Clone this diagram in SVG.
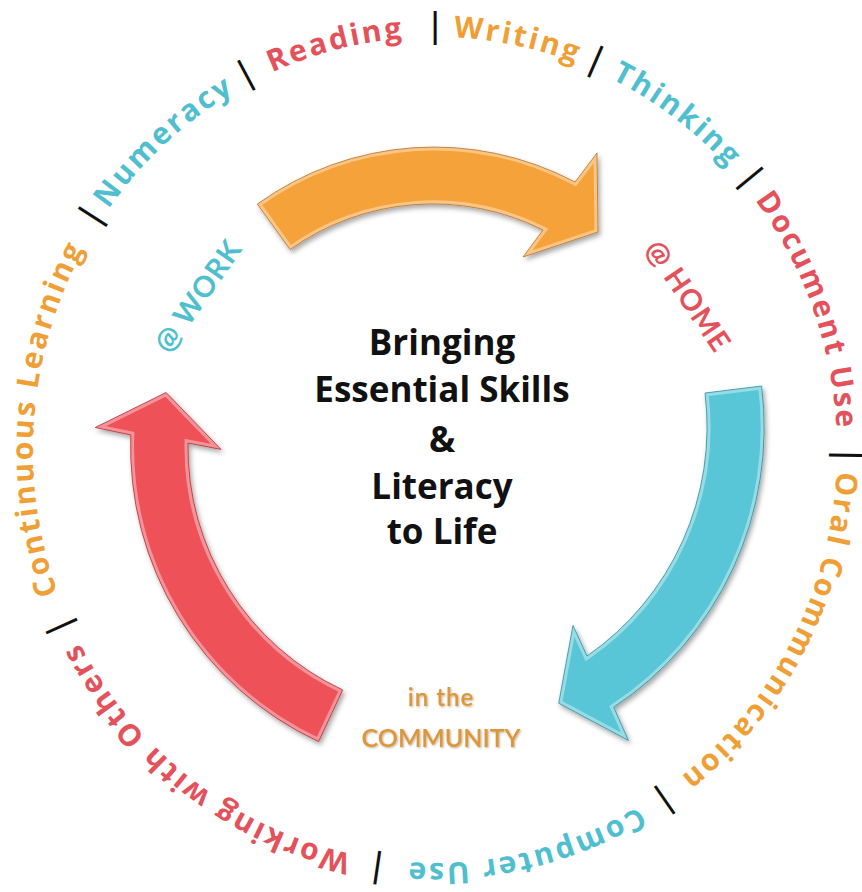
<svg xmlns="http://www.w3.org/2000/svg" width="862" height="892" viewBox="0 0 862 892">
  <defs>
    <style>
      .ring{font-family:"Open Sans","Noto Sans",sans-serif;font-weight:700;font-size:30px;letter-spacing:2.4px;text-anchor:middle}
      .sep{font-family:"Open Sans","Noto Sans",sans-serif;font-weight:600;font-size:34px;fill:#111;text-anchor:middle}
      .red{fill:#E4515A}
      .orange{fill:#F09F36}
      .teal{fill:#4FBFCF}
      .title{font-family:"Open Sans","Noto Sans",sans-serif;font-weight:700;font-size:35px;fill:#111;text-anchor:middle}
      .place{font-family:Lato,"Open Sans",sans-serif;font-weight:700;font-size:29px;letter-spacing:1px;text-anchor:middle}
      .community{font-family:Lato,"Open Sans",sans-serif;font-weight:600;fill:#DE963A;text-anchor:middle}
      .bevel{fill:none;stroke:#fff;stroke-opacity:.38;stroke-width:7}
    </style>
    <!-- baseline ellipse for the ring of skills, wound twice so any label can straddle the top -->
    <path id="ring" d="M435,37 A402,413 0 0 1 435,863 A402,413 0 0 1 435,37 A402,413 0 0 1 435,863 A402,413 0 0 1 435,37"/>
    <path id="arrowTop" d="M257.3,204.1 A302,302 0 0 1 575,182 L597,153 L598,232 L523,257 L543,230 A246,246 0 0 0 290.1,249.5 Z"/>
    <path id="arrowRight" d="M761.6,386 A335.5,335.5 0 0 1 613.7,707.2 L628.4,740.4 L558.7,703.2 L573,625.4 L587,656 A278.5,278.5 0 0 0 705,393 Z"/>
    <path id="arrowLeft" d="M318.6,741.6 A325,325 0 0 1 130.8,434.9 L95.2,427.5 L166.1,392.5 L221,449.4 L188,443 A268,268 0 0 0 342.7,689.9 Z"/>
    <clipPath id="clipTop"><use href="#arrowTop"/></clipPath>
    <clipPath id="clipRight"><use href="#arrowRight"/></clipPath>
    <clipPath id="clipLeft"><use href="#arrowLeft"/></clipPath>
    <filter id="shadow" x="-15%" y="-15%" width="130%" height="130%">
      <feDropShadow dx="2" dy="3" stdDeviation="2.5" flood-color="#000" flood-opacity="0.35"/>
    </filter>
    <filter id="soft" x="-10%" y="-30%" width="120%" height="160%">
      <feDropShadow dx="1" dy="1" stdDeviation="1" flood-color="#6b4a1a" flood-opacity="0.45"/>
    </filter>
  </defs>

  <rect width="862" height="892" fill="#fff"/>

  <!-- ring of essential skills -->
  <g id="skills-ring">
    <text class="ring red"><textPath href="#ring" startOffset="48.06%">Reading</textPath></text>
    <text class="ring orange"><textPath href="#ring" startOffset="51.60%">Writing</textPath></text>
    <text class="ring teal"><textPath href="#ring" startOffset="55.03%">Thinking</textPath></text>
    <text class="ring red"><textPath href="#ring" startOffset="59.69%">Document Use</textPath></text>
    <text class="ring orange"><textPath href="#ring" startOffset="66.39%">Oral Communication</textPath></text>
    <text class="ring teal"><textPath href="#ring" startOffset="73.19%">Computer Use</textPath></text>
    <text class="ring red"><textPath href="#ring" startOffset="30.14%">Working with Others</textPath></text>
    <text class="ring orange"><textPath href="#ring" startOffset="38.14%">Continuous Learning</textPath></text>
    <text class="ring teal"><textPath href="#ring" startOffset="44.21%">Numeracy</textPath></text>

    <text class="sep"><textPath href="#ring" startOffset="50%">|</textPath></text>
    <text class="sep"><textPath href="#ring" startOffset="53.15%">|</textPath></text>
    <text class="sep"><textPath href="#ring" startOffset="56.88%">|</textPath></text>
    <text class="sep"><textPath href="#ring" startOffset="62.60%">|</textPath></text>
    <text class="sep"><textPath href="#ring" startOffset="70.33%">|</textPath></text>
    <text class="sep"><textPath href="#ring" startOffset="26.11%">|</textPath></text>
    <text class="sep"><textPath href="#ring" startOffset="34.03%">|</textPath></text>
    <text class="sep"><textPath href="#ring" startOffset="42.22%">|</textPath></text>
    <text class="sep"><textPath href="#ring" startOffset="46.25%">|</textPath></text>
  </g>

  <!-- curved arrows linking the three places -->
  <g id="connectors">
    <g id="arrow-work-home" filter="url(#shadow)">
      <use href="#arrowTop" fill="#F5A23A"/>
      <use href="#arrowTop" class="bevel" clip-path="url(#clipTop)"/>
      <use href="#arrowTop" fill="none" stroke="#B9742C" stroke-width="0.8"/>
    </g>
    <g id="arrow-home-community" filter="url(#shadow)">
      <use href="#arrowRight" fill="#58C6D6"/>
      <use href="#arrowRight" class="bevel" clip-path="url(#clipRight)"/>
      <use href="#arrowRight" fill="none" stroke="#2F8E9C" stroke-width="0.8"/>
    </g>
    <g id="arrow-community-work" filter="url(#shadow)">
      <use href="#arrowLeft" fill="#EE5158"/>
      <use href="#arrowLeft" class="bevel" clip-path="url(#clipLeft)"/>
      <use href="#arrowLeft" fill="none" stroke="#B23038" stroke-width="0.8"/>
    </g>
  </g>

  <!-- places -->
  <g id="node-work">
    <text class="place teal" transform="translate(198,296) rotate(-55)" y="10">@ WORK</text>
  </g>
  <g id="node-home">
    <text class="place red" transform="translate(688,296) rotate(56)" y="10">@ HOME</text>
  </g>
  <g id="node-community" filter="url(#soft)">
    <text class="community" x="441" y="706" font-size="24" letter-spacing="1">in the</text>
    <text class="community" x="441" y="747" font-size="25">COMMUNITY</text>
  </g>

  <!-- centre title -->
  <g id="node-title">
    <text class="title" x="442" y="355">Bringing</text>
    <text class="title" x="442" y="402">Essential Skills</text>
    <text class="title" x="442" y="452">&amp;</text>
    <text class="title" x="442" y="499">Literacy</text>
    <text class="title" x="442" y="544">to Life</text>
  </g>
</svg>
